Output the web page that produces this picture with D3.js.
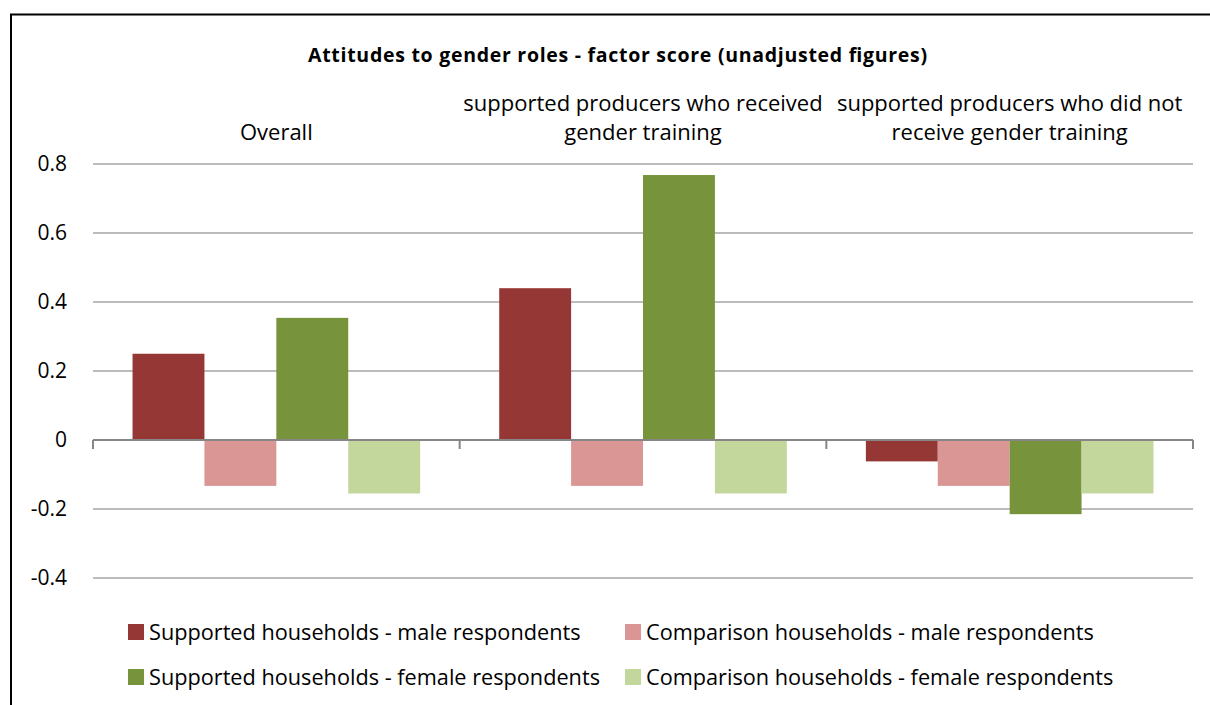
<!DOCTYPE html>
<meta charset="utf-8">
<style>
    html,
    body {
        margin: 0;
        background: #fff;
    }

    text {
        font-family: "Open Sans", Lato, sans-serif;
        fill: #000;
    }

    .grid line {
        stroke: #a6a6a6;
        stroke-width: 1.5px;
    }

    .tick-label {
        font-size: 21px;
    }

    .cat-label {
        font-size: 22px;
    }

    .legend text {
        font-size: 21.7px;
    }
</style>

<body>
    <script src="https://d3js.org/d3.v7.min.js"></script>
    <script>
        var categories = [
            ["Overall"],
            ["supported producers who received", "gender training"],
            ["supported producers who did not", "receive gender training"]
        ];
        var seriesNames = [
            "Supported households - male respondents",
            "Comparison households - male respondents",
            "Supported households - female respondents",
            "Comparison households - female respondents"
        ];
        var seriesColors = ["#953735", "#d99694", "#77933c", "#c3d69b"];
        // one array per series, values per category
        var supportedMale = [0.25, 0.44, -0.062];
        var comparisonMale = [-0.133, -0.133, -0.133];
        var supportedFemale = [0.354, 0.768, -0.215];
        var comparisonFemale = [-0.155, -0.155, -0.155];
        var yTicks = [-0.4, -0.2, 0, 0.2, 0.4, 0.6, 0.8];

        var series = [supportedMale, comparisonMale, supportedFemale, comparisonFemale];

        var width = 1210,
            height = 705;

        var svg = d3.select("body").append("svg")
            .attr("width", width)
            .attr("height", height);

        // chart frame (only top and left edges are visible in the shot)
        svg.append("path")
            .attr("d", "M11,705V14.5H1210")
            .attr("fill", "none")
            .attr("stroke", "#000")
            .attr("stroke-width", 2);

        var y = d3.scaleLinear().domain([-0.4, 0.8]).range([578, 164]);
        var x0 = d3.scaleBand().domain(d3.range(categories.length)).range([93, 1193]);
        var x1 = d3.scaleBand().domain(d3.range(series.length))
            .range([0, x0.bandwidth()]).paddingOuter(0.55).paddingInner(0);

        // gridlines
        svg.append("g")
            .attr("class", "grid")
            .selectAll("line")
            .data(yTicks.filter(function (d) { return d !== 0; }))
            .join("line")
            .attr("x1", 93).attr("x2", 1193)
            .attr("y1", function (d) { return y(d); })
            .attr("y2", function (d) { return y(d); });

        // y labels (plain hyphen for negatives, like the original)
        svg.append("g")
            .selectAll("text")
            .data(yTicks)
            .join("text")
            .attr("class", "tick-label")
            .attr("x", 67)
            .attr("y", function (d) { return y(d); })
            .attr("dy", "0.35em")
            .attr("text-anchor", "end")
            .text(function (d) { return d === 0 ? "0" : d.toFixed(1); });

        // bars
        var groups = svg.append("g")
            .selectAll("g")
            .data(categories.map(function (c, i) { return i; }))
            .join("g")
            .attr("transform", function (i) { return "translate(" + x0(i) + ",0)"; });

        groups.selectAll("rect")
            .data(function (i) { return series.map(function (s, j) { return { s: j, v: s[i] }; }); })
            .join("rect")
            .attr("x", function (d) { return x1(d.s); })
            .attr("width", x1.bandwidth())
            .attr("y", function (d) { return y(Math.max(0, d.v)); })
            .attr("height", function (d) { return Math.abs(y(d.v) - y(0)); })
            .attr("fill", function (d) { return seriesColors[d.s]; });

        // zero axis with ticks
        var axis = svg.append("g").attr("transform", "translate(0," + y(0) + ")");
        axis.append("line")
            .attr("x1", 93).attr("x2", 1193)
            .attr("stroke", "#868686").attr("stroke-width", 2);
        axis.selectAll(".tk")
            .data(d3.range(categories.length + 1))
            .join("line")
            .attr("class", "tk")
            .attr("x1", function (i) { return 93 + i * x0.step(); })
            .attr("x2", function (i) { return 93 + i * x0.step(); })
            .attr("y1", 0).attr("y2", 9)
            .attr("stroke", "#868686").attr("stroke-width", 2);

        // category labels above the plot
        var cat = svg.append("g")
            .selectAll("text")
            .data(categories)
            .join("text")
            .attr("class", "cat-label")
            .attr("text-anchor", "middle")
            .attr("x", function (d, i) { return x0(i) + x0.bandwidth() / 2; })
            .attr("y", function (d) { return d.length === 1 ? 140 : 111; });
        cat.selectAll("tspan")
            .data(function (d) { return d; })
            .join("tspan")
            .attr("x", function () { return d3.select(this.parentNode).attr("x"); })
            .attr("dy", function (d, i) { return i === 0 ? 0 : 29; })
            .text(function (d) { return d; });

        // title
        svg.append("text")
            .attr("x", 617.5)
            .attr("y", 62)
            .attr("text-anchor", "middle")
            .attr("textLength", 619)
            .attr("lengthAdjust", "spacing")
            .style("font-size", "19.5px")
            .style("font-weight", "bold")
            .text("Attitudes to gender roles - factor score (unadjusted figures)");

        // legend
        var legendPos = [[128, 632], [625, 632], [128, 677], [625, 677]];
        var lg = svg.append("g").attr("class", "legend")
            .selectAll("g")
            .data(seriesNames)
            .join("g")
            .attr("transform", function (d, i) { return "translate(" + legendPos[i][0] + "," + legendPos[i][1] + ")"; });
        lg.append("rect")
            .attr("x", 0).attr("y", -8)
            .attr("width", 16).attr("height", 16)
            .attr("fill", function (d, i) { return seriesColors[i]; });
        lg.append("text")
            .attr("x", 21)
            .attr("dy", "0.35em")
            .text(function (d) { return d; });
    </script>
</body>

</html>
